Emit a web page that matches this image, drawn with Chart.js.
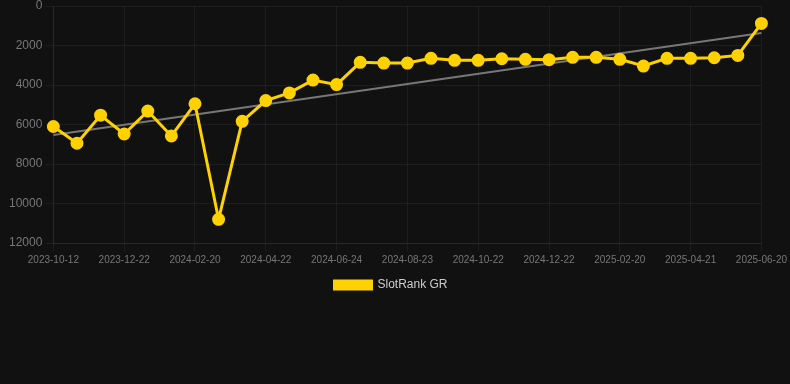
<!DOCTYPE html>
<html>
<head>
<meta charset="utf-8">
<script src="https://cdn.jsdelivr.net/npm/chart.js@4"></script>
<style>
  html, body { margin: 0; padding: 0; background: #111111; overflow: hidden; }
  #wrap { width: 790px; height: 384px; overflow: hidden; }
  #rankChart { display: block; margin-top: -3px; }
</style>
</head>
<body>
<div id="wrap"><canvas id="rankChart" width="790" height="387"></canvas></div>
<script>
var dates = [
    '2023-10-12', '2023-11-04', '2023-11-28', '2023-12-22', '2024-01-10', '2024-01-31',
    '2024-02-20', '2024-03-12', '2024-04-01', '2024-04-22', '2024-05-13', '2024-06-03',
    '2024-06-24', '2024-07-14', '2024-08-03', '2024-08-23', '2024-09-12', '2024-10-02',
    '2024-10-22', '2024-11-11', '2024-12-01', '2024-12-22', '2025-01-10', '2025-01-31',
    '2025-02-20', '2025-03-12', '2025-04-01', '2025-04-21', '2025-05-11', '2025-05-31',
    '2025-06-20'
];

var ranks = [
    6100, 6950, 5530, 6480, 5320, 6580, 4950, 10800, 5840, 4790, 4400,
    3750, 3980, 2850, 2890, 2890, 2650, 2750, 2750, 2670, 2700, 2720,
    2600, 2600, 2700, 3040, 2650, 2650, 2620, 2500, 880
];

var yTicks = [0, 2000, 4000, 6000, 8000, 10000, 12000];

// least squares trend over the index
function trend(values) {
    var n = values.length, sx = 0, sy = 0, sxy = 0, sxx = 0;
    for (var i = 0; i < n; i++) {
        sx += i; sy += values[i]; sxy += i * values[i]; sxx += i * i;
    }
    var slope = (n * sxy - sx * sy) / (n * sxx - sx * sx);
    var icpt = (sy - slope * sx) / n;
    return values.map(function (v, i) {
        return (i === 0 || i === n - 1) ? icpt + slope * i : null;
    });
}

var ctx = document.getElementById('rankChart').getContext('2d');

var chart = new Chart(ctx, {
    type: 'line',
    data: {
        labels: dates,
        datasets: [
            {
                label: 'SlotRank GR',
                data: ranks,
                borderColor: '#FFD100',
                backgroundColor: '#FFD100',
                borderWidth: 3,
                pointRadius: 5,
                pointHoverRadius: 6,
                tension: 0,
                fill: false
            },
            {
                label: 'trend',
                data: trend(ranks),
                borderColor: '#777777',
                borderWidth: 2,
                pointRadius: 0,
                spanGaps: true,
                fill: false
            }
        ]
    },
    options: {
        responsive: false,
        maintainAspectRatio: false,
        animation: false,
        layout: {
            padding: { top: 0, right: 14, bottom: 83, left: 6 }
        },
        plugins: {
            legend: {
                position: 'bottom',
                labels: {
                    color: '#cccccc',
                    boxWidth: 37,
                    boxHeight: 8,
                    font: { size: 12, family: 'Arial, "Liberation Sans", sans-serif' },
                    filter: function (item) { return item.datasetIndex === 0; }
                }
            },
            tooltip: { enabled: false }
        },
        scales: {
            x: {
                grid: { color: 'rgba(255,255,255,0.05)' },
                border: { color: 'rgba(255,255,255,0.05)' },
                ticks: {
                    color: '#777777',
                    maxRotation: 0,
                    autoSkip: true,
                    maxTicksLimit: 11,
                    font: { size: 10, family: 'Arial, "Liberation Sans", sans-serif' }
                }
            },
            y: {
                reverse: true,
                min: yTicks[0],
                max: yTicks[yTicks.length - 1],
                afterBuildTicks: function (axis) {
                    axis.ticks = yTicks.map(function (v) { return { value: v }; });
                },
                grid: { color: 'rgba(255,255,255,0.05)' },
                border: { color: 'rgba(255,255,255,0.05)' },
                ticks: {
                    color: '#777777',
                    callback: function (v) { return String(v); },
                    font: { size: 12, lineHeight: 1, family: 'Arial, "Liberation Sans", sans-serif' }
                }
            }
        }
    }
});
</script>
</body>
</html>
